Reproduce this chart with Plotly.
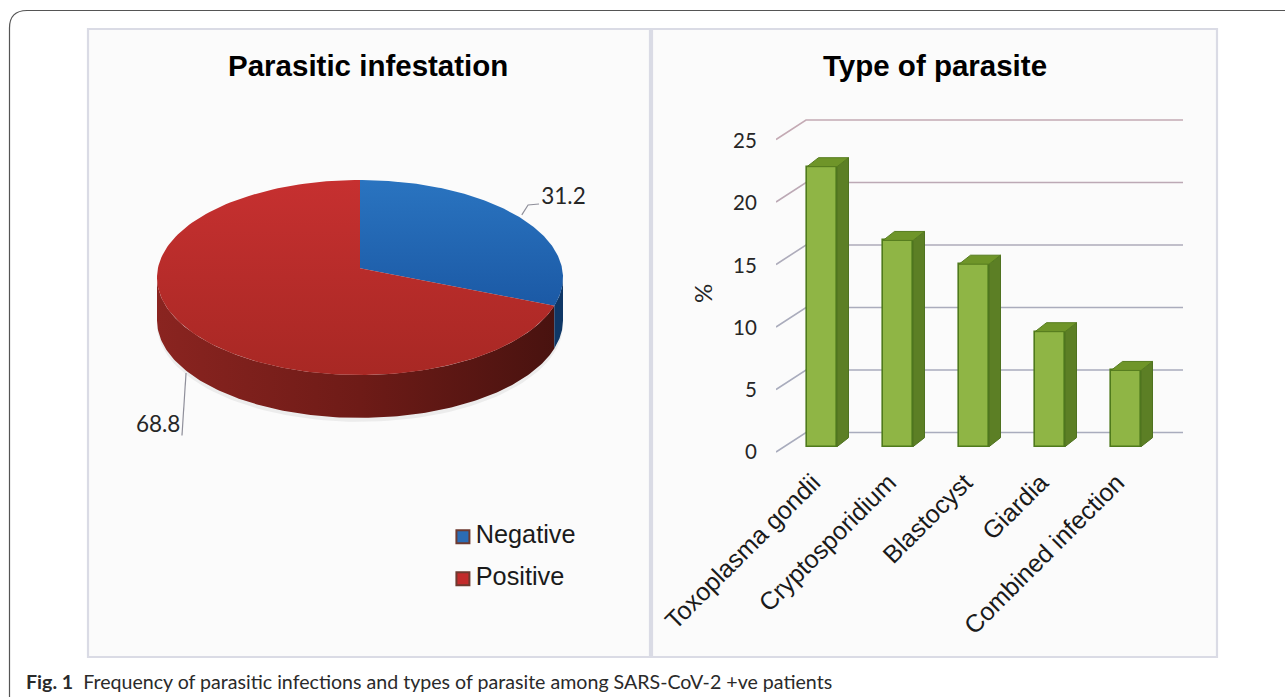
import numpy as np
import plotly.graph_objects as go

W, H = 1285, 697

# ---- data ----
pie_labels = ["Negative", "Positive"]
pie_values = [31.2, 68.8]
bar_categories = ["Toxoplasma gondii", "Cryptosporidium", "Blastocyst", "Giardia", "Combined infection"]
bar_values = [22.4, 16.5, 14.6, 9.2, 6.1]
y_ticks = [0, 5, 10, 15, 20, 25]
grid_colors = ["#a9acbd", "#a9acbd", "#aaacbc", "#aeacbb", "#bca9b5", "#c4aab4"]


def px_x(a, b):
    return [a / W, b / W]


def px_y(top, bottom):
    return [1 - bottom / H, 1 - top / H]


fig = go.Figure()

# ---- pie drawn on an elliptical axis pair ----
cx, cy, rx, ry = 360, 277.5, 203, 97.5
apex = 0.095
depth = 0.44
tilt_skew = 5.5  # the tilted view foreshortens the slice boundary
pie_xaxis = dict(domain=px_x(88, 649), range=[(88 - cx) / rx, (649 - cx) / rx], visible=False, fixedrange=True,
                 automargin=False)
pie_yaxis = dict(domain=px_y(28, 657), range=[(cy - 657) / ry, (cy - 28) / ry], visible=False, fixedrange=True,
                 automargin=False)


def arc(a, b, n=160):
    t = np.radians(np.linspace(a, b, n))
    return np.sin(t), np.cos(t)


split = 360 * pie_values[0] / sum(pie_values) - tilt_skew


def pie_fill(x, y, grad, name, kind="vertical", start=None, stop=None):
    fig.add_trace(go.Scatter(
        x=x, y=y, mode="lines", fill="toself", name=name,
        line=dict(width=0), showlegend=False, hoverinfo="name",
        fillgradient=dict(type=kind, colorscale=grad, start=start, stop=stop),
        xaxis="x", yaxis="y"))


# soft shadow
sx, sy = arc(0, 360)
fig.add_trace(go.Scatter(x=sx * 1.0, y=sy - depth - 0.04, mode="lines", fill="toself",
                         fillcolor="#ececec", line=dict(width=0), showlegend=False, hoverinfo="skip",
                         xaxis="x", yaxis="y"))


def wall(a, b, grad, name):
    x, y = arc(a, b)
    px = np.concatenate([x, x[::-1]])
    py = np.concatenate([y, y[::-1] - depth])
    pie_fill(px, py, grad, name, "horizontal", -1, 1)


wall(split, 270, [[0, "#8a2420"], [0.5, "#6e1b17"], [1, "#47120f"]], pie_labels[1])
wall(90, split, [[0, "#0f3766"], [1, "#0f3766"]], pie_labels[0])

x, y = arc(0, split)
pie_fill(np.r_[0, x, 0], np.r_[apex, y, apex], [[0, "#1a57a3"], [1, "#2a74c0"]], pie_labels[0], "vertical", -0.4, 1)
x, y = arc(split, 360)
pie_fill(np.r_[0, x, 0], np.r_[apex, y, apex], [[0, "#a82824"], [1, "#c63030"]], pie_labels[1], "vertical", -1, 1)

# leader lines and slice labels
leader_x = [[0.797, 0.828, 0.882], [-0.857, -0.877]]
leader_y = [[0.642, 0.744, 0.754], [-0.98, -1.62]]
for lx, ly in zip(leader_x, leader_y):
    fig.add_trace(go.Scatter(x=lx, y=ly, mode="lines", line=dict(color="#8f8f9a", width=1.2),
                             showlegend=False, hoverinfo="skip", xaxis="x", yaxis="y"))
fig.add_trace(go.Scatter(x=[0.893, -0.885], y=[0.81, -1.53], mode="text",
                         text=[str(v) for v in pie_values],
                         textposition=["middle right", "middle left"],
                         textfont=dict(family="Lato", size=22.5, color="#262626"),
                         showlegend=False, hoverinfo="skip", xaxis="x", yaxis="y"))

# legend as marks + text
legend_y = [-2.66, -3.09]
fig.add_trace(go.Scatter(x=[0.507, 0.507], y=legend_y, mode="markers",
                         marker=dict(symbol="square", size=13, color=["#2b6cb5", "#c22b2b"],
                                     line=dict(color="#6e3a30", width=2)),
                         showlegend=False, hoverinfo="skip", xaxis="x", yaxis="y"))
fig.add_trace(go.Scatter(x=[0.57, 0.57], y=legend_y, mode="text",
                         text=pie_labels, textposition="middle right",
                         textfont=dict(family="Liberation Sans", size=25.3, color="#1a1a1a"),
                         showlegend=False, hoverinfo="skip", xaxis="x", yaxis="y"))

# ---- right chart: overlaid axes share one domain, each has its own scale ----
dom_l, dom_r, dom_t, dom_b = 776, 1183, 90, 460


def y_range(zero_px, per):
    return [(zero_px - dom_b) / per, (zero_px - dom_t) / per]


per_unit = 12.5
wall_zero = 432.5
wall_front = 452
wall_back = 806
fig.update_layout(
    xaxis=pie_xaxis, yaxis=pie_yaxis,
    xaxis2=dict(domain=px_x(dom_l, dom_r), range=[dom_l, dom_r], visible=False, fixedrange=True, automargin=False),
    yaxis2=dict(domain=px_y(dom_t, dom_b), range=y_range(wall_zero, per_unit), visible=False, fixedrange=True,
                anchor="x2", automargin=False),
)
for v, c in zip(y_ticks, grid_colors):
    fig.add_trace(go.Scatter(x=[dom_l, wall_back, dom_r],
                             y=[v - (wall_front - wall_zero) / per_unit, v, v],
                             mode="lines", line=dict(color=c, width=1.6), showlegend=False,
                             hoverinfo="skip", xaxis="x2", yaxis="y2"))

# ---- bars ----
bar_base = 446.7
step = 76
first = 822
bar_w = 30 / step
dx = 11.5 / step
dy = 9 / per_unit
idx = list(range(len(bar_categories)))
fig.add_trace(go.Bar(x=idx, y=bar_values, width=bar_w, name="%",
                     marker=dict(color="#8fb545", line=dict(color="#4f7a1c", width=1.6)),
                     showlegend=False, xaxis="x3", yaxis="y3"))
for i, v in zip(idx, bar_values):
    l, r = i - bar_w / 2, i + bar_w / 2
    fig.add_trace(go.Scatter(x=[r, r + dx, r + dx, r, r], y=[0, dy, v + dy, v, 0], mode="lines", fill="toself",
                             fillcolor="#5c7f25", line=dict(color="#4f7220", width=1),
                             showlegend=False, hoverinfo="skip", xaxis="x3", yaxis="y3"))
    fig.add_trace(go.Scatter(x=[l, l + dx, r + dx, r, l], y=[v, v + dy, v + dy, v, v], mode="lines", fill="toself",
                             fillcolor="#6f9529", line=dict(color="#567c1e", width=1),
                             showlegend=False, hoverinfo="skip", xaxis="x3", yaxis="y3"))

fig.update_layout(
    xaxis3=dict(range=[(dom_l - first) / step, (dom_r - first) / step],
                anchor="y3", overlaying="x2", side="bottom", tickmode="array", tickvals=idx, ticktext=bar_categories,
                tickangle=-45, showgrid=False, zeroline=False, showline=False, ticks="",
                ticklabelshift=-9, ticklabelstandoff=2,
                tickfont=dict(family="Liberation Sans", size=25, color="#1a1a1a"), fixedrange=True,
                automargin=False),
    yaxis3=dict(range=y_range(bar_base, per_unit), anchor="x3", overlaying="y2", visible=False,
                fixedrange=True, automargin=False),
    # value axis: labels sit at the front edge of the floor
    yaxis4=dict(range=y_range(452, 12.44), anchor="x2", overlaying="y2", side="left",
                tickmode="array", tickvals=y_ticks, showgrid=False, zeroline=False, showline=False,
                ticks="outside", ticklen=14, tickcolor="rgba(0,0,0,0)",
                tickfont=dict(family="Lato", size=20.5, color="#262626"), fixedrange=True, automargin=False),
)
fig.add_trace(go.Scatter(x=[dom_l] * len(y_ticks), y=y_ticks, mode="lines", line=dict(width=0),
                         showlegend=False, hoverinfo="skip", xaxis="x2", yaxis="y4"))


def text(s, x, y, size, family="Liberation Sans", color="#000", angle=0, anchor="center"):
    fig.add_annotation(text=s, x=x / W, y=1 - y / H, xref="paper", yref="paper", showarrow=False,
                       font=dict(family=family, size=size, color=color), textangle=angle,
                       xanchor=anchor, yanchor="middle")


text("<b>Parasitic infestation</b>", 368, 65, 29.5)
text("<b>Type of parasite</b>", 935, 65, 29.5)
text("%", 702, 293, 24, family="Lato", color="#262626", angle=-90)
text("<b>Fig. 1</b>  Frequency of parasitic infections and types of parasite among SARS-CoV-2 +ve patients",
     24, 681, 19.6, family="Lato", color="#2a2a2a", anchor="left")


def rect(x0, y0, x1, y1, **kw):
    return dict(type="rect", xref="paper", yref="paper", x0=x0 / W, x1=x1 / W, y0=1 - y0 / H, y1=1 - y1 / H,
                layer="below", **kw)


panel_line = dict(color="#dadbe5", width=2.2)
shapes = [
    rect(88, 29, 650, 657, fillcolor="#fbfbfb", line=panel_line),
    rect(652, 29, 1217, 657, fillcolor="#fbfbfb", line=panel_line),
    dict(type="path", xref="paper", yref="paper", layer="below",
         path=f"M {9.5 / W} 0 L {9.5 / W} {1 - 28 / H} Q {9.5 / W} {1 - 10.5 / H} {27 / W} {1 - 10.5 / H} "
              f"L 1 {1 - 10.5 / H}",
         line=dict(color="#555555", width=1.2)),
]
fig.update_layout(width=W, height=H, autosize=False, margin=dict(l=0, r=0, t=0, b=0),
                  paper_bgcolor="white", plot_bgcolor="rgba(0,0,0,0)", showlegend=False,
                  bargap=0, shapes=shapes)
fig.write_html("out.html", config={"displayModeBar": False},
               post_script="document.body.style.margin='0';document.documentElement.style.overflow='hidden';")
